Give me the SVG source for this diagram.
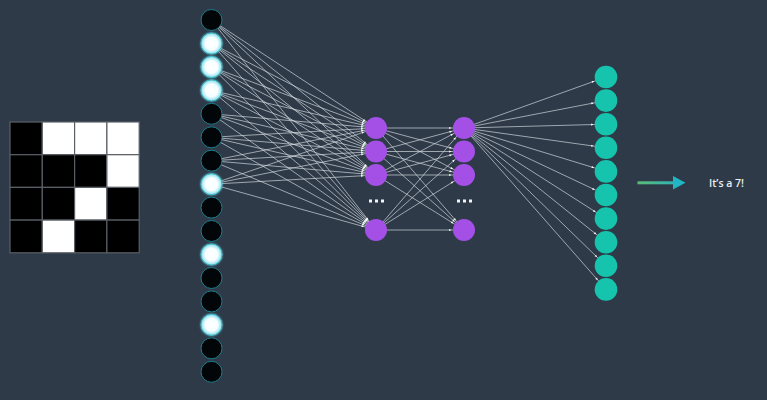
<svg xmlns="http://www.w3.org/2000/svg" width="767" height="400" viewBox="0 0 767 400">
<defs>
<style>
.bg{fill:#2e3a48}
.cell-b{fill:#000;stroke:#5a5f66;stroke-width:1.2}
.cell-w{fill:#fff;stroke:#5a5f66;stroke-width:1.2}
.in-b{fill:#030608;stroke:#1e7c8c;stroke-width:1}
.in-w{fill:url(#wglow);stroke:#3ab8c8;stroke-width:1;filter:url(#halo)}
.hid{fill:#a450e6}
.out{fill:#16c4ae}
.dot{fill:#f2f4f6}
.con line{stroke:#d6dce2;stroke-width:0.8;stroke-opacity:0.85;marker-end:url(#ah)}
.lbl{font-family:"Open Sans","Liberation Sans",sans-serif;font-size:10.5px;font-weight:600;fill:#e8eef2}
</style>
<radialGradient id="wglow" cx="0.5" cy="0.5" r="0.5">
<stop offset="0" stop-color="#ffffff"/>
<stop offset="0.6" stop-color="#f6feff"/>
<stop offset="1" stop-color="#86dfea"/>
</radialGradient>
<filter id="halo" x="-50%" y="-50%" width="200%" height="200%">
<feGaussianBlur in="SourceGraphic" stdDeviation="1.2" result="b"/>
<feMerge><feMergeNode in="b"/><feMergeNode in="SourceGraphic"/></feMerge>
</filter>
<linearGradient id="arrg" x1="0" y1="0" x2="1" y2="0">
<stop offset="0" stop-color="#5cbb74"/>
<stop offset="1" stop-color="#2fb3b8"/>
</linearGradient>
<marker id="ah" markerUnits="userSpaceOnUse" markerWidth="20" markerHeight="6" viewBox="0 0 20 6" refX="18.5" refY="3" orient="auto">
<path d="M3.6,1.9 L6,3 L3.6,4.1 z" fill="#ffffff"/>
</marker>
</defs>
<rect class="bg" x="0" y="0" width="767" height="400"/>

<g id="grid">
<rect class="cell-b" x="10" y="122" width="32.3" height="32.7"/>
<rect class="cell-w" x="42.3" y="122" width="32.3" height="32.7"/>
<rect class="cell-w" x="74.6" y="122" width="32.3" height="32.7"/>
<rect class="cell-w" x="106.9" y="122" width="32.3" height="32.7"/>
<rect class="cell-b" x="10" y="154.7" width="32.3" height="32.7"/>
<rect class="cell-b" x="42.3" y="154.7" width="32.3" height="32.7"/>
<rect class="cell-b" x="74.6" y="154.7" width="32.3" height="32.7"/>
<rect class="cell-w" x="106.9" y="154.7" width="32.3" height="32.7"/>
<rect class="cell-b" x="10" y="187.4" width="32.3" height="32.7"/>
<rect class="cell-b" x="42.3" y="187.4" width="32.3" height="32.7"/>
<rect class="cell-w" x="74.6" y="187.4" width="32.3" height="32.7"/>
<rect class="cell-b" x="106.9" y="187.4" width="32.3" height="32.7"/>
<rect class="cell-b" x="10" y="220.1" width="32.3" height="32.7"/>
<rect class="cell-w" x="42.3" y="220.1" width="32.3" height="32.7"/>
<rect class="cell-b" x="74.6" y="220.1" width="32.3" height="32.7"/>
<rect class="cell-b" x="106.9" y="220.1" width="32.3" height="32.7"/>
</g>

<g id="connectors" class="con">
<line x1="211.5" y1="20" x2="376" y2="128"/>
<line x1="211.5" y1="20" x2="376" y2="151.5"/>
<line x1="211.5" y1="20" x2="376" y2="175"/>
<line x1="211.5" y1="20" x2="376" y2="230"/>
<line x1="211.5" y1="43.5" x2="376" y2="128"/>
<line x1="211.5" y1="43.5" x2="376" y2="151.5"/>
<line x1="211.5" y1="43.5" x2="376" y2="175"/>
<line x1="211.5" y1="43.5" x2="376" y2="230"/>
<line x1="211.5" y1="67" x2="376" y2="128"/>
<line x1="211.5" y1="67" x2="376" y2="151.5"/>
<line x1="211.5" y1="67" x2="376" y2="175"/>
<line x1="211.5" y1="67" x2="376" y2="230"/>
<line x1="211.5" y1="90.4" x2="376" y2="128"/>
<line x1="211.5" y1="90.4" x2="376" y2="151.5"/>
<line x1="211.5" y1="90.4" x2="376" y2="175"/>
<line x1="211.5" y1="90.4" x2="376" y2="230"/>
<line x1="211.5" y1="113.8" x2="376" y2="128"/>
<line x1="211.5" y1="113.8" x2="376" y2="151.5"/>
<line x1="211.5" y1="113.8" x2="376" y2="175"/>
<line x1="211.5" y1="113.8" x2="376" y2="230"/>
<line x1="211.5" y1="137.3" x2="376" y2="128"/>
<line x1="211.5" y1="137.3" x2="376" y2="151.5"/>
<line x1="211.5" y1="137.3" x2="376" y2="175"/>
<line x1="211.5" y1="137.3" x2="376" y2="230"/>
<line x1="211.5" y1="160.7" x2="376" y2="128"/>
<line x1="211.5" y1="160.7" x2="376" y2="151.5"/>
<line x1="211.5" y1="160.7" x2="376" y2="175"/>
<line x1="211.5" y1="160.7" x2="376" y2="230"/>
<line x1="211.5" y1="184.2" x2="376" y2="128"/>
<line x1="211.5" y1="184.2" x2="376" y2="151.5"/>
<line x1="211.5" y1="184.2" x2="376" y2="175"/>
<line x1="211.5" y1="184.2" x2="376" y2="230"/>

<line x1="376" y1="128" x2="464" y2="128"/>
<line x1="376" y1="128" x2="464" y2="151.5"/>
<line x1="376" y1="128" x2="464" y2="175"/>
<line x1="376" y1="128" x2="464" y2="230"/>
<line x1="376" y1="151.5" x2="464" y2="128"/>
<line x1="376" y1="151.5" x2="464" y2="151.5"/>
<line x1="376" y1="151.5" x2="464" y2="175"/>
<line x1="376" y1="151.5" x2="464" y2="230"/>
<line x1="376" y1="175" x2="464" y2="128"/>
<line x1="376" y1="175" x2="464" y2="151.5"/>
<line x1="376" y1="175" x2="464" y2="175"/>
<line x1="376" y1="175" x2="464" y2="230"/>
<line x1="376" y1="230" x2="464" y2="128"/>
<line x1="376" y1="230" x2="464" y2="151.5"/>
<line x1="376" y1="230" x2="464" y2="175"/>
<line x1="376" y1="230" x2="464" y2="230"/>

<line x1="464" y1="128" x2="606" y2="77"/>
<line x1="464" y1="128" x2="606" y2="100.6"/>
<line x1="464" y1="128" x2="606" y2="124.2"/>
<line x1="464" y1="128" x2="606" y2="147.8"/>
<line x1="464" y1="128" x2="606" y2="171.4"/>
<line x1="464" y1="128" x2="606" y2="195"/>
<line x1="464" y1="128" x2="606" y2="218.6"/>
<line x1="464" y1="128" x2="606" y2="242.2"/>
<line x1="464" y1="128" x2="606" y2="265.8"/>
<line x1="464" y1="128" x2="606" y2="289.4"/>
</g>

<g id="input-layer">
<g id="in0"><circle class="in-b" cx="211.5" cy="20" r="10.5"/></g>
<g id="in1"><circle class="in-w" cx="211.5" cy="43.5" r="10.5"/></g>
<g id="in2"><circle class="in-w" cx="211.5" cy="67" r="10.5"/></g>
<g id="in3"><circle class="in-w" cx="211.5" cy="90.4" r="10.5"/></g>
<g id="in4"><circle class="in-b" cx="211.5" cy="113.8" r="10.5"/></g>
<g id="in5"><circle class="in-b" cx="211.5" cy="137.3" r="10.5"/></g>
<g id="in6"><circle class="in-b" cx="211.5" cy="160.7" r="10.5"/></g>
<g id="in7"><circle class="in-w" cx="211.5" cy="184.2" r="10.5"/></g>
<g id="in8"><circle class="in-b" cx="211.5" cy="207.6" r="10.5"/></g>
<g id="in9"><circle class="in-b" cx="211.5" cy="231" r="10.5"/></g>
<g id="in10"><circle class="in-w" cx="211.5" cy="254.5" r="10.5"/></g>
<g id="in11"><circle class="in-b" cx="211.5" cy="278" r="10.5"/></g>
<g id="in12"><circle class="in-b" cx="211.5" cy="301.4" r="10.5"/></g>
<g id="in13"><circle class="in-w" cx="211.5" cy="324.8" r="10.5"/></g>
<g id="in14"><circle class="in-b" cx="211.5" cy="348.3" r="10.5"/></g>
<g id="in15"><circle class="in-b" cx="211.5" cy="371.8" r="10.5"/></g>
</g>

<g id="hidden-layer-1">
<g id="h1a"><circle class="hid" cx="376" cy="128" r="11"/></g>
<g id="h1b"><circle class="hid" cx="376" cy="151.5" r="11"/></g>
<g id="h1c"><circle class="hid" cx="376" cy="175" r="11"/></g>
<g id="h1-dots"><rect class="dot" x="369" y="199.5" width="3" height="3"/><rect class="dot" x="375" y="199.5" width="3" height="3"/><rect class="dot" x="381" y="199.5" width="3" height="3"/></g>
<g id="h1d"><circle class="hid" cx="376" cy="230" r="11"/></g>
</g>

<g id="hidden-layer-2">
<g id="h2a"><circle class="hid" cx="464" cy="128" r="11"/></g>
<g id="h2b"><circle class="hid" cx="464" cy="151.5" r="11"/></g>
<g id="h2c"><circle class="hid" cx="464" cy="175" r="11"/></g>
<g id="h2-dots"><rect class="dot" x="457" y="199.5" width="3" height="3"/><rect class="dot" x="463" y="199.5" width="3" height="3"/><rect class="dot" x="469" y="199.5" width="3" height="3"/></g>
<g id="h2d"><circle class="hid" cx="464" cy="230" r="11"/></g>
</g>

<g id="output-layer">
<g id="o0"><circle class="out" cx="606" cy="77" r="11.3"/></g>
<g id="o1"><circle class="out" cx="606" cy="100.6" r="11.3"/></g>
<g id="o2"><circle class="out" cx="606" cy="124.2" r="11.3"/></g>
<g id="o3"><circle class="out" cx="606" cy="147.8" r="11.3"/></g>
<g id="o4"><circle class="out" cx="606" cy="171.4" r="11.3"/></g>
<g id="o5"><circle class="out" cx="606" cy="195" r="11.3"/></g>
<g id="o6"><circle class="out" cx="606" cy="218.6" r="11.3"/></g>
<g id="o7"><circle class="out" cx="606" cy="242.2" r="11.3"/></g>
<g id="o8"><circle class="out" cx="606" cy="265.8" r="11.3"/></g>
<g id="o9"><circle class="out" cx="606" cy="289.4" r="11.3"/></g>
</g>

<g id="result-arrow">
<rect x="637.5" y="181.3" width="37" height="3" fill="url(#arrg)"/>
<path d="M673,176 L685.5,182.8 L673,189.6 z" fill="#22b5c6"/>
</g>
<g id="result-label">
<text class="lbl" x="709" y="186.5">It’s a 7!</text>
</g>
</svg>
